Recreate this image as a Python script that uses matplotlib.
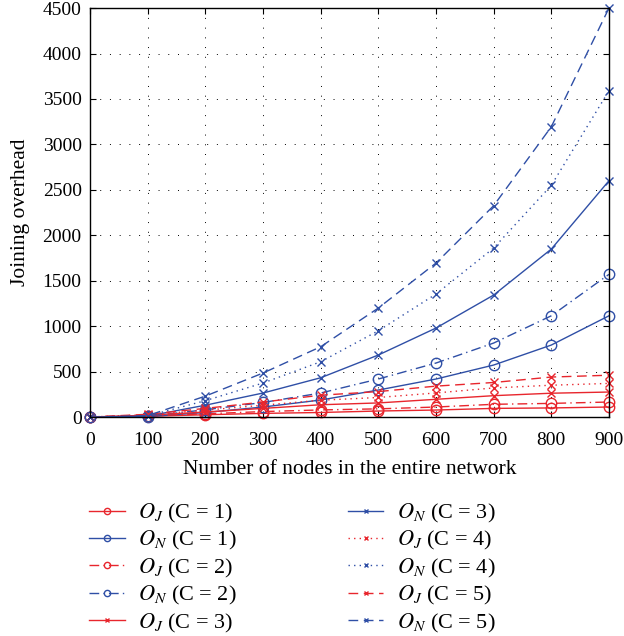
import matplotlib
matplotlib.use("Agg")
import matplotlib.pyplot as plt

plt.rcParams['font.family'] = ['Liberation Serif', 'DejaVu Serif']
plt.rcParams['mathtext.fontset'] = 'stix'

# nodes in the network
nodes = [0, 100, 200, 300, 400, 500, 600, 700, 800, 900]

# joining overhead O_J (red) and O_N (blue) for each cluster count C
oj_c1 = [0, 8, 25, 40, 50, 66, 77, 95, 100, 110]
on_c1 = [0, 5, 50, 110, 187, 297, 418, 572, 792, 1114]
oj_c2 = [0, 12, 35, 60, 78, 90, 110, 140, 150, 165]
on_c2 = [0, 8, 80, 160, 264, 418, 594, 814, 1114, 1570]
oj_c3 = [0, 20, 55, 95, 135, 155, 195, 235, 262, 275]
on_c3 = [0, 10, 130, 264, 432, 682, 979, 1342, 1848, 2600]
oj_c4 = [0, 25, 75, 130, 185, 215, 265, 320, 350, 370]
on_c4 = [0, 12, 180, 374, 608, 949, 1353, 1859, 2549, 3590]
oj_c5 = [0, 30, 95, 165, 240, 280, 340, 380, 440, 460]
on_c5 = [0, 15, 230, 484, 773, 1199, 1694, 2325, 3194, 4500]

red = '#e8262d'
blue = '#2f4fa6'

series = [
    (oj_c1, red, '-', 'o', r'$O_J$ (C = 1)'),
    (on_c1, blue, '-', 'o', r'$O_N$ (C = 1)'),
    (oj_c2, red, (0, (7, 3, 1, 3)), 'o', r'$O_J$ (C = 2)'),
    (on_c2, blue, (0, (7, 3, 1, 3)), 'o', r'$O_N$ (C = 2)'),
    (oj_c3, red, '-', 'x', r'$O_J$ (C = 3)'),
    (on_c3, blue, '-', 'x', r'$O_N$ (C = 3)'),
    (oj_c4, red, (0, (1, 3)), 'x', r'$O_J$ (C = 4)'),
    (on_c4, blue, (0, (1, 3)), 'x', r'$O_N$ (C = 4)'),
    (oj_c5, red, (0, (7, 4)), 'x', r'$O_J$ (C = 5)'),
    (on_c5, blue, (0, (7, 4)), 'x', r'$O_N$ (C = 5)'),
]

fig = plt.figure(figsize=(6.24, 6.36), dpi=100)
ax = fig.add_axes([0.1442, 0.3443, 0.8317, 0.643])

handles = []
for vals, col, ls, mk, lab in series:
    ms = 7.5 if mk == 'o' else 6
    h, = ax.plot(nodes, vals, color=col, linestyle=ls, marker=mk, markersize=ms,
                 markerfacecolor='none', markeredgewidth=1.0, linewidth=1.0,
                 clip_on=False, label=lab)
    handles.append(h)

ax.set_xlim(0, 900)
ax.set_ylim(0, 4500)
ax.set_xticks(range(0, 901, 100))
ax.set_yticks(range(0, 4501, 500))
ax.tick_params(direction='in', top=True, right=True, length=4, labelsize=14)
ax.tick_params(axis='x', pad=11)
ax.tick_params(axis='y', pad=6)
ax.grid(True, color='black', linestyle=(0, (1, 9)), linewidth=0.7)
for sp in ax.spines.values():
    sp.set_linewidth(1.0)

ax.set_xlabel('Number of nodes in the entire network', fontsize=15.5, labelpad=7.5)
ax.set_ylabel('Joining overhead', fontsize=15.5, labelpad=9)

fig.legend(handles=handles, ncol=2, loc='upper left', bbox_to_anchor=(0.143, 0.211),
           frameon=False, fontsize=16, handlelength=1.6, handletextpad=0.6,
           labelspacing=0.2, columnspacing=5.0, markerscale=0.6,
           borderpad=0, borderaxespad=0)

fig.savefig('out.png', dpi=100)
